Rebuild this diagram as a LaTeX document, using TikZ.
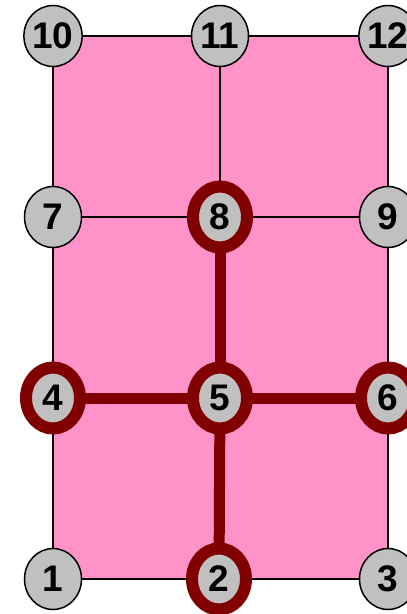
\documentclass[tikz,border=0pt]{standalone}
\usepackage{fontspec}
\setmainfont{Liberation Sans}
\usetikzlibrary{shapes.geometric}
\definecolor{pinkfill}{RGB}{255,147,201}
\definecolor{ringred}{RGB}{128,0,0}
\definecolor{nodegray}{RGB}{192,192,192}
\begin{document}
\begin{tikzpicture}[x=1pt,y=-1pt,
  vnode/.style={ellipse,draw=black,line width=1.5pt,fill=nodegray,
    minimum width=57pt,minimum height=61pt,inner sep=0pt,
    font=\fontsize{37}{40}\selectfont\bfseries},
  hnode/.style={vnode,draw=ringred,line width=12pt,minimum width=54pt,minimum height=61pt},
  gridline/.style={line width=1.8pt,black},
  redpath/.style={line width=11pt,ringred}]
\useasboundingbox (0,0) rectangle (407,614);
% grid points
\coordinate (p10) at (53,36);  \coordinate (p11) at (220,36);  \coordinate (p12) at (388,36);
\coordinate (p7)  at (53,217); \coordinate (p8)  at (220,217); \coordinate (p9)  at (388,217);
\coordinate (p4)  at (53,398); \coordinate (p5)  at (220,398); \coordinate (p6)  at (388,398);
\coordinate (p1)  at (53,579); \coordinate (p2)  at (219,579); \coordinate (p3)  at (388,579);
% mesh
\fill[pinkfill] (p10) rectangle (p3);
\draw[gridline] (p10) rectangle (p3);
\draw[gridline] (p11) -- (p8);
\draw[gridline] (p7) -- (p9);
\draw[gridline] (p4) -- (p6);
% highlighted path
\draw[redpath] (p8) -- (p5);
\draw[redpath] (p4) -- (p6);
\draw[redpath] (p5) -- (p2);
% nodes
\node[vnode] (n10) at (p10) {10};
\node[vnode] (n11) at (p11) {11};
\node[vnode] (n12) at (p12) {12};
\node[vnode] (n7)  at (p7)  {7};
\node[hnode] (n8)  at (p8)  {8};
\node[vnode] (n9)  at (p9)  {9};
\node[hnode] (n4)  at (p4)  {4};
\node[hnode] (n5)  at (p5)  {5};
\node[hnode] (n6)  at (p6)  {6};
\node[vnode] (n1)  at (p1)  {1};
\node[hnode] (n2)  at (p2)  {2};
\node[vnode] (n3)  at (p3)  {3};
\end{tikzpicture}
\end{document}
